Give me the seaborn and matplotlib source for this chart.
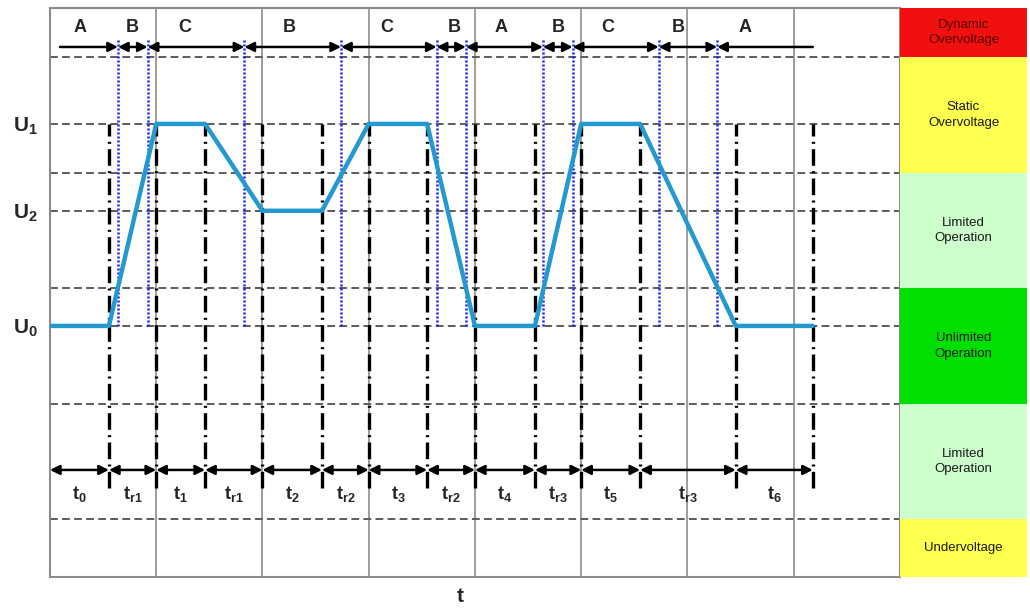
import numpy as np
import pandas as pd
import matplotlib
matplotlib.use("Agg")
import matplotlib.pyplot as plt
import seaborn as sns

# voltage levels (U0 = 0, U1 = 1)
U0, U1, U2 = 0.0, 1.0, 0.57
u_levels = [U1, U2, U0]
u_labels = [r"$\mathregular{U_1}$", r"$\mathregular{U_2}$", r"$\mathregular{U_0}$"]

# voltage profile (time in grid columns)
wave_t = [0.0, 0.555, 1.0, 1.46, 2.0, 2.56, 3.0, 3.55, 4.0, 4.565, 5.0, 5.555, 6.455, 7.18]
wave_u = [U0, U0, U1, U1, U2, U2, U1, U1, U0, U0, U1, U1, U0, U0]

# time intervals at the bottom
t_marks = [0.0, 0.555, 1.0, 1.46, 2.0, 2.56, 3.0, 3.55, 4.0, 4.565, 5.0, 5.555, 6.455, 7.18]
t_labels = ["t_0", "t_{r1}", "t_1", "t_{r1}", "t_2", "t_{r2}", "t_3", "t_{r2}",
            "t_4", "t_{r3}", "t_5", "t_{r3}", "t_6"]

# operating states at the top (A / B / C) and the band crossings
band_cross = [0.64, 0.92, 1.83, 2.74, 3.64, 3.915, 4.64, 4.92, 5.73, 6.28]
phase_edges = [0.094] + band_cross + [7.18]
phase_labels = ["A", "B", "C", "B", "C", "B", "A", "B", "C", "B", "A"]
phase_label_x = [0.28, 0.77, 1.27, 2.25, 3.17, 3.81, 4.25, 4.78, 5.25, 5.91, 6.54]

# voltage bands on the right
band_edges = [1.574, 1.332, 0.757, 0.188, -0.386, -0.955, -1.243]
band_names = ["Dynamic\nOvervoltage", "Static\nOvervoltage", "Limited\nOperation",
              "Unlimited\nOperation", "Limited\nOperation", "Undervoltage"]
band_colors = ["#f01010", "#ffff50", "#ccffcc", "#00e000", "#ccffcc", "#ffff50"]
dashed_levels = [1.332, 1.0, 0.757, 0.569, 0.188, 0.0, -0.386, -0.955]
n_cols = 8

sns.set_style("white")
plt.rcParams["font.family"] = ["Liberation Sans", "DejaVu Sans"]

fig = plt.figure(figsize=(10.3, 6.08), dpi=100)
ax = fig.add_axes([0.0485, 0.0510, 0.8252, 0.9359])
pan = fig.add_axes([0.8738, 0.0510, 0.1233, 0.9359])

ylo, yhi = band_edges[-1], band_edges[0]
ax.set_xlim(0, n_cols)
ax.set_ylim(ylo, yhi)

grey = "#8c8c8c"
for s in ax.spines.values():
    s.set_color(grey)
    s.set_linewidth(1.5)

# grid
for c in range(1, n_cols):
    ax.axvline(c, color=grey, lw=1.2, zorder=1)
for lv in dashed_levels:
    ax.axhline(lv, color="#5c5c5c", lw=1.4, ls=(0, (4, 2.2)), zorder=1)

# band crossing markers
ax.vlines(band_cross, U0, 1.426, colors="#1a1aff", linestyles=(0, (0.8, 0.8)), lw=1.8, zorder=2)
# interval markers
ax.vlines(t_marks[1:], -0.80, U1, colors="black", linestyles=(0, (5, 1.6, 0.6, 1.6)), lw=2.4, zorder=3)

# voltage profile
df = pd.DataFrame({"t": wave_t, "u": wave_u})
sns.lineplot(data=df, x="t", y="u", ax=ax, color="#2399cf", lw=3.2, sort=False, zorder=4)

# top arrows with phase labels
y_top = 1.381
n = len(phase_edges) - 1
for i in range(n):
    style = "<|-|>"
    if i == 0:
        style = "-|>"
    elif i == n - 1:
        style = "<|-"
    ax.annotate("", xy=(phase_edges[i + 1], y_top), xytext=(phase_edges[i], y_top),
                arrowprops=dict(arrowstyle=style, color="black", lw=1.8,
                                shrinkA=0, shrinkB=0, mutation_scale=14), zorder=5)
for x, lab in zip(phase_label_x, phase_labels):
    ax.text(x, 1.478, lab, ha="center", va="center", fontsize=13, fontweight="bold")

# bottom arrows with interval labels
y_bot = -0.713
for i in range(len(t_marks) - 1):
    ax.annotate("", xy=(t_marks[i + 1], y_bot), xytext=(t_marks[i], y_bot),
                arrowprops=dict(arrowstyle="<|-|>", color="black", lw=1.8,
                                shrinkA=0, shrinkB=0, mutation_scale=14), zorder=5)
    mid = (t_marks[i] + t_marks[i + 1]) / 2
    ax.text(mid, -0.83, r"$\mathregular{" + t_labels[i] + "}$", ha="center", va="center",
            fontsize=13, fontweight="bold")

ax.set_xticks([])
ax.set_yticks(u_levels, labels=u_labels)
ax.tick_params(axis="y", length=0, pad=9, labelsize=15)
for lab in ax.get_yticklabels():
    lab.set_fontweight("bold")
ax.set_xlabel("t", fontsize=15, fontweight="bold")
ax.xaxis.set_label_coords((460 - 50) / 850, -0.018)
ax.set_ylabel("")

# colour bands on the right
pan.set_xlim(0, 1)
pan.set_ylim(ylo, yhi)
for i, name in enumerate(band_names):
    hi, lo = band_edges[i], band_edges[i + 1]
    pan.axhspan(lo, hi, color=band_colors[i], lw=0)
    pan.text(0.5, (hi + lo) / 2, name, ha="center", va="center", fontsize=9.5,
             color="#5a0000" if i == 0 else "#1a1a1a", linespacing=1.4)
pan.axis("off")

fig.savefig("out.png", dpi=100)
